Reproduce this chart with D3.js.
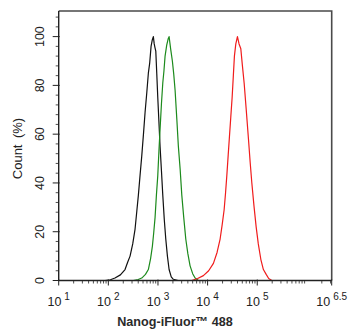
<!DOCTYPE html>
<html>
<head>
<meta charset="utf-8">
<script src="https://cdn.jsdelivr.net/npm/d3@7"></script>
<style>
  body { margin: 0; background: #fff; }
  svg { display: block; font-family: "Liberation Sans", Arial, sans-serif; }
</style>
</head>
<body>
<div class="chart"></div>
<script>
var width = 349;
var height = 334;
var margin = {top: 11, right: 17.3, bottom: 53.5, left: 58.7};

// intensity (x) and count % (y)
var blackX = [86, 110, 136, 175, 217, 245, 274, 310, 345, 375, 403, 435, 471, 510, 550, 595, 640, 680, 726, 765, 807, 840, 870, 904, 945, 991, 1045, 1102, 1175, 1250, 1340, 1436, 1550, 1675, 1850, 2042, 2541];
var blackY = [0, 0.3, 1, 2.3, 4.5, 7.5, 10, 15, 21, 28.5, 35, 43, 51, 60, 69, 77, 85, 89, 96, 98.5, 100, 97, 95.5, 94, 85, 75, 65, 55, 45, 35, 25, 17, 10, 4.5, 1.5, 0.5, 0];
var greenX = [319, 400, 471, 560, 640, 710, 771, 820, 875, 930, 991, 1045, 1102, 1175, 1250, 1320, 1390, 1500, 1600, 1675, 1800, 1950, 2080, 2213, 2400, 2576, 2800, 3020, 3300, 3631, 4000, 4436, 5000, 5598, 6531];
var greenY = [0, 0.4, 1, 2.5, 4.5, 9, 14, 19.5, 26, 35, 43, 53, 62, 72.5, 81, 86, 92, 96.5, 99, 100, 95, 90, 84.5, 78, 66, 55, 45.5, 35, 26, 17, 11, 6, 2.8, 1, 0];
var redX = [4797, 6300, 8222, 10500, 13092, 15500, 17865, 19700, 21528, 23000, 24378, 26000, 27542, 29300, 31189, 33000, 34674, 37000, 39902, 43000, 46666, 50000, 54450, 60000, 66527, 72000, 77804, 86000, 95060, 105000, 118304, 133000, 151356, 170000, 196789];
var redY = [0, 0.8, 2, 4, 7, 11.5, 17, 23, 29, 36, 43, 51.5, 59, 67, 75, 84, 92, 97, 100, 97, 95, 88.5, 81, 70, 58, 48.5, 40, 30.5, 22, 15, 8.6, 4.5, 2.5, 0.8, 0];

var xExps = [1, 2, 3, 4, 5, 6.5];
var xExpLabels = ['1', '2', '3', '4', '5', '6.5'];
var yTicks = [0, 20, 40, 60, 80, 100];

var series = [
  {x: blackX, y: blackY, color: '#111111'},
  {x: greenX, y: greenY, color: '#1c8a1c'},
  {x: redX, y: redY, color: '#f01c1c'}
];

var svg = d3.select('div.chart').append('svg')
    .attr('width', width)
    .attr('height', height);

var x_scale = d3.scaleLog()
    .domain([10, Math.pow(10, 6.5)])
    .range([margin.left, width - margin.right]);
var y_scale = d3.scaleLinear()
    .domain([0, 110.5])
    .range([height - margin.bottom, margin.top]);

var x0 = margin.left, x1 = width - margin.right;
var y0 = height - margin.bottom, y1 = margin.top;

// frame (top + right)
svg.append('path')
    .attr('d', 'M' + x0 + ',' + y1 + 'H' + x1 + 'V' + y0)
    .attr('fill', 'none')
    .attr('stroke', '#4a4a4a')
    .attr('stroke-width', 1.6);

// curves
var line = d3.line()
    .x(function(d){ return x_scale(d[0]); })
    .y(function(d){ return y_scale(d[1]); });

series.forEach(function(s){
  var pts = s.x.map(function(v, i){ return [v, s.y[i]]; });
  svg.append('path')
      .datum(pts)
      .attr('d', line)
      .attr('fill', 'none')
      .attr('stroke', s.color)
      .attr('stroke-width', 1.2)
      .attr('stroke-linejoin', 'round');
});

// x axis
var xg = svg.append('g').attr('class', 'x-axis');
var minor = [];
for (var e = 1; e <= 6; e++) {
  for (var m = 2; m <= 9; m++) {
    var v = m * Math.pow(10, e);
    if (v < Math.pow(10, 6.5)) minor.push(v);
  }
}
xg.selectAll('line.minor').data(minor).enter().append('line')
    .attr('x1', function(d){ return x_scale(d); })
    .attr('x2', function(d){ return x_scale(d); })
    .attr('y1', y0).attr('y2', y0 + 3)
    .attr('stroke', '#222').attr('stroke-width', 0.8);
xg.selectAll('line.major').data(xExps).enter().append('line')
    .attr('x1', function(d){ return x_scale(Math.pow(10, d)); })
    .attr('x2', function(d){ return x_scale(Math.pow(10, d)); })
    .attr('y1', y0 - 1).attr('y2', y0 + 5)
    .attr('stroke', '#222').attr('stroke-width', 1);
xg.append('line')
    .attr('x1', x0).attr('x2', x1).attr('y1', y0).attr('y2', y0)
    .attr('stroke', '#222').attr('stroke-width', 1.4);

var xl = xg.selectAll('text').data(xExps).enter().append('text')
    .attr('x', function(d){ return x_scale(Math.pow(10, d)); })
    .attr('y', 306)
    .attr('text-anchor', 'middle')
    .attr('font-size', 12.5)
    .attr('fill', '#222');
xl.append('tspan').text('10');
xl.append('tspan')
    .attr('dx', 3).attr('dy', -6)
    .attr('font-size', 10)
    .text(function(d, i){ return xExpLabels[i]; });

svg.append('text')
    .attr('x', 175)
    .attr('y', 325.5)
    .attr('text-anchor', 'middle')
    .attr('font-size', 12.6)
    .attr('font-weight', 'bold')
    .attr('fill', '#2a2a2a')
    .text('Nanog-iFluor\u2122 488');

// y axis
var yg = svg.append('g').attr('class', 'y-axis');
var yMinor = d3.range(0, 110, 4).filter(function(d){ return d % 20 !== 0; });
yg.selectAll('line.minor').data(yMinor).enter().append('line')
    .attr('x1', x0 - 3).attr('x2', x0)
    .attr('y1', function(d){ return y_scale(d); })
    .attr('y2', function(d){ return y_scale(d); })
    .attr('stroke', '#222').attr('stroke-width', 0.8);
yg.selectAll('line.major').data(yTicks).enter().append('line')
    .attr('x1', x0 - 6).attr('x2', x0 + 1)
    .attr('y1', function(d){ return y_scale(d); })
    .attr('y2', function(d){ return y_scale(d); })
    .attr('stroke', '#222').attr('stroke-width', 1);
yg.append('line')
    .attr('x1', x0).attr('x2', x0).attr('y1', y1).attr('y2', y0)
    .attr('stroke', '#222').attr('stroke-width', 1.4);
yg.selectAll('text').data(yTicks).enter().append('text')
    .attr('transform', function(d){ return 'translate(43.5,' + y_scale(d) + ') rotate(-90)'; })
    .attr('text-anchor', 'middle')
    .attr('font-size', 12.5)
    .attr('fill', '#222')
    .text(function(d){ return d; });

svg.append('text')
    .attr('transform', 'translate(22,148.5) rotate(-90)')
    .attr('text-anchor', 'middle')
    .attr('font-size', 13)
    .attr('fill', '#222')
    .text('Count\u2002(%)');
</script>
</body>
</html>
